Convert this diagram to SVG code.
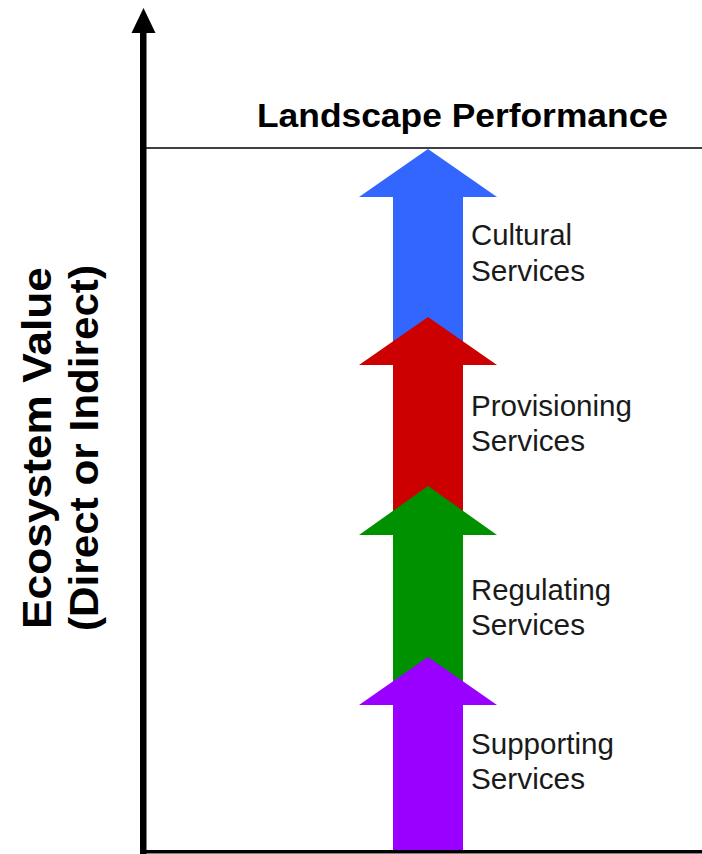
<svg xmlns="http://www.w3.org/2000/svg" width="702" height="854" viewBox="0 0 702 854">
<style>
.lbl{font-family:"Liberation Sans",Arial,sans-serif;font-size:29px;fill:#1a1a1a}
.bold{font-family:"Liberation Sans",Arial,sans-serif;font-weight:bold;fill:#000}
</style>
<rect width="702" height="854" fill="#fff"/>
<g id="axes">
<rect x="140" y="30" width="6.5" height="824" fill="#000"/>
<polygon points="143.5,8 131.5,33 155.5,33" fill="#000"/>
<rect x="140" y="850" width="562" height="3.5" fill="#000"/>
<line x1="146" y1="148" x2="702" y2="148" stroke="#000" stroke-width="1.5"/>
</g>
<g id="title">
<text class="bold" x="257" y="127" font-size="33" textLength="411" lengthAdjust="spacingAndGlyphs">Landscape Performance</text>
</g>
<g id="y-label" class="bold" font-size="41">
<text transform="translate(51,448) rotate(-90)" text-anchor="middle" textLength="362" lengthAdjust="spacingAndGlyphs">Ecosystem Value</text>
<text transform="translate(98,448) rotate(-90)" text-anchor="middle" textLength="366" lengthAdjust="spacingAndGlyphs">(Direct or Indirect)</text>
</g>
<g id="cultural">
<polygon points="428,149 497,197 463,197 463,366 393,366 393,197 359,197" fill="#3366FF"/>
<text class="lbl" x="471" y="245" textLength="101" lengthAdjust="spacingAndGlyphs">Cultural</text>
<text class="lbl" x="471" y="281" textLength="114" lengthAdjust="spacingAndGlyphs">Services</text>
</g>
<g id="provisioning">
<polygon points="428,317 497,365 463,365 463,536 393,536 393,365 359,365" fill="#CC0000"/>
<text class="lbl" x="471" y="416" textLength="161" lengthAdjust="spacingAndGlyphs">Provisioning</text>
<text class="lbl" x="471" y="451" textLength="114" lengthAdjust="spacingAndGlyphs">Services</text>
</g>
<g id="regulating">
<polygon points="428,486 497,535 463,535 463,705 393,705 393,535 359,535" fill="#009100"/>
<text class="lbl" x="471" y="600" textLength="140" lengthAdjust="spacingAndGlyphs">Regulating</text>
<text class="lbl" x="471" y="635" textLength="114" lengthAdjust="spacingAndGlyphs">Services</text>
</g>
<g id="supporting">
<polygon points="428,657 497,705 463,705 463,850 393,850 393,705 359,705" fill="#9900FF"/>
<text class="lbl" x="471" y="754" textLength="143" lengthAdjust="spacingAndGlyphs">Supporting</text>
<text class="lbl" x="471" y="789" textLength="114" lengthAdjust="spacingAndGlyphs">Services</text>
</g>
</svg>
